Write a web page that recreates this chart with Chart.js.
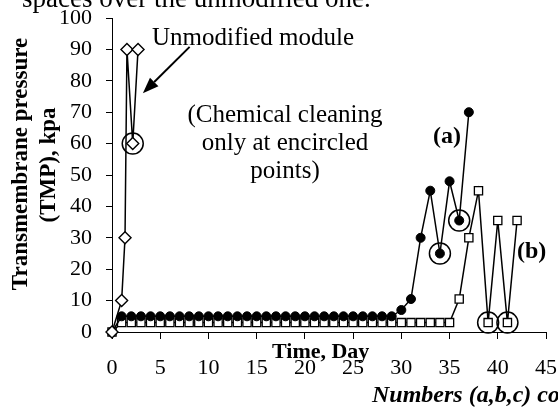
<!DOCTYPE html>
<html>
<head>
  <title>TMP vs time</title>
  <script src="https://cdn.jsdelivr.net/npm/chart.js"></script>
  <style>
    body { margin: 0; background: #fff; }
  </style>
</head>
<body>
  <div style="width:558px;height:412px">
    <canvas id="tmpChart" width="558" height="412"></canvas>
  </div>

  <script>
    // unmodified module (diamonds)
    const unmodDays = [0, 1, 1.35, 1.55, 2.15, 2.7];
    const unmodTmp = [0, 10, 30, 90, 60, 90];

    // module (a) - filled circles
    const daysA = [0, 1, 2, 3, 4, 5, 6, 7, 8, 9, 10, 11, 12, 13, 14, 15, 16, 17, 18, 19,
      20, 21, 22, 23, 24, 25, 26, 27, 28, 29, 30, 31, 32, 33, 34, 35, 36, 37];
    const tmpA = [0, 5, 5, 5, 5, 5, 5, 5, 5, 5, 5, 5, 5, 5, 5, 5, 5, 5, 5, 5,
      5, 5, 5, 5, 5, 5, 5, 5, 5, 5, 7, 10.5, 30, 45, 25, 48, 35.5, 70];

    // module (b) - open squares
    const daysB = [0, 1, 2, 3, 4, 5, 6, 7, 8, 9, 10, 11, 12, 13, 14, 15, 16, 17, 18, 19,
      20, 21, 22, 23, 24, 25, 26, 27, 28, 29, 30, 31, 32, 33, 34, 35, 36, 37, 38, 39,
      40, 41, 42];
    const tmpB = [0, 3, 3, 3, 3, 3, 3, 3, 3, 3, 3, 3, 3, 3, 3, 3, 3, 3, 3, 3,
      3, 3, 3, 3, 3, 3, 3, 3, 3, 3, 3, 3, 3, 3, 3, 3, 10.5, 30, 45, 3,
      35.5, 3, 35.5];

    // chemical cleaning points (encircled)
    const cleanDays = [2.15, 34, 36, 39, 41];
    const cleanTmp = [60, 25, 35.5, 3, 3];

    const xTicks = [0, 5, 10, 15, 20, 25, 30, 35, 40, 45];
    const yTicks = [0, 10, 20, 30, 40, 50, 60, 70, 80, 90, 100];

    function toPoints(xs, ys) {
      return xs.map((x, i) => ({ x: x, y: ys[i] }));
    }

    const serif = '"Liberation Serif", "Times New Roman", serif';

    const notes = {
      id: 'notes',
      afterDraw(chart) {
        const ctx = chart.ctx;
        const sx = chart.scales.x;
        const sy = chart.scales.y;
        ctx.save();
        ctx.fillStyle = '#000';
        ctx.strokeStyle = '#000';
        ctx.textBaseline = 'alphabetic';

        // cut-off line of the page above the figure
        ctx.textAlign = 'left';
        ctx.font = '27px ' + serif;
        ctx.fillText('spaces over the unmodified one.', 22, 7);

        // y axis title, two lines
        ctx.font = 'bold 23px ' + serif;
        ctx.textAlign = 'center';
        ctx.save();
        ctx.translate(27, 164);
        ctx.rotate(-Math.PI / 2);
        ctx.fillText('Transmembrane pressure', 0, 0);
        ctx.restore();
        ctx.save();
        ctx.translate(55, 165);
        ctx.rotate(-Math.PI / 2);
        ctx.fillText('(TMP), kpa', 0, 0);
        ctx.restore();

        // x axis title sits over the tick row
        ctx.textAlign = 'left';
        ctx.font = 'bold 22px ' + serif;
        ctx.fillText('Time, Day', 272, 358);

        ctx.font = 'bold italic 24px ' + serif;
        ctx.fillText('Numbers (a,b,c) correspond', 372, 402);

        // in-plot labels
        ctx.font = '25px ' + serif;
        ctx.fillText('Unmodified module', 152, 45);
        ctx.textAlign = 'center';
        ctx.fillText('(Chemical cleaning', 285, 122);
        ctx.fillText('only at encircled', 285, 150);
        ctx.fillText('points)', 285, 178);

        ctx.textAlign = 'left';
        ctx.font = 'bold 24px ' + serif;
        ctx.fillText('(a)', 433, 143);
        ctx.fillText('(b)', 517, 258);

        // arrow to the unmodified curve
        const x0 = sx.getPixelForValue(8.05), y0 = sy.getPixelForValue(90.8);
        const x1 = sx.getPixelForValue(3.2), y1 = sy.getPixelForValue(76);
        const ang = Math.atan2(y1 - y0, x1 - x0);
        const head = 16, half = 6;
        const bx = x1 - head * Math.cos(ang), by = y1 - head * Math.sin(ang);
        ctx.lineWidth = 2;
        ctx.beginPath();
        ctx.moveTo(x0, y0);
        ctx.lineTo(bx, by);
        ctx.stroke();
        ctx.beginPath();
        ctx.moveTo(x1, y1);
        ctx.lineTo(bx - half * Math.sin(ang), by + half * Math.cos(ang));
        ctx.lineTo(bx + half * Math.sin(ang), by - half * Math.cos(ang));
        ctx.closePath();
        ctx.fill();
        ctx.restore();
      }
    };

    function noPad(scale) {
      scale.paddingLeft = 0;
      scale.paddingRight = 0;
      scale.paddingTop = 0;
      scale.paddingBottom = 0;
    }

    new Chart(document.getElementById('tmpChart'), {
      type: 'scatter',
      data: {
        datasets: [{
          label: 'Unmodified module',
          data: toPoints(unmodDays, unmodTmp),
          showLine: true,
          borderColor: '#000',
          borderWidth: 1.5,
          pointStyle: 'rectRot',
          pointRadius: 6,
          pointBackgroundColor: '#fff',
          pointBorderColor: '#000',
          pointBorderWidth: 1.4,
          clip: false
        }, {
          label: 'Cleaning',
          data: toPoints(cleanDays, cleanTmp),
          showLine: false,
          pointStyle: 'circle',
          pointRadius: 10.5,
          pointBackgroundColor: 'rgba(0,0,0,0)',
          pointBorderColor: '#000',
          pointBorderWidth: 1.5,
          clip: false
        }, {
          label: '(a)',
          data: toPoints(daysA, tmpA),
          showLine: true,
          borderColor: '#000',
          borderWidth: 1.5,
          pointStyle: 'circle',
          pointRadius: 4.5,
          pointBackgroundColor: '#000',
          pointBorderColor: '#000',
          pointBorderWidth: 1,
          clip: false
        }, {
          label: '(b)',
          data: toPoints(daysB, tmpB),
          showLine: true,
          borderColor: '#000',
          borderWidth: 1.5,
          pointStyle: 'rect',
          pointRadius: 5.8,
          pointBackgroundColor: '#fff',
          pointBorderColor: '#000',
          pointBorderWidth: 1.3,
          clip: false
        }]
      },
      options: {
        responsive: false,
        animation: false,
        events: [],
        layout: {
          padding: { left: 0, top: 18, right: 11, bottom: 0 }
        },
        elements: {
          line: { tension: 0 }
        },
        scales: {
          x: {
            type: 'linear',
            min: 0,
            max: 45,
            afterBuildTicks: (scale) => { scale.ticks = xTicks.map(v => ({ value: v })); },
            afterFit: (scale) => { scale.height = 80; noPad(scale); },
            ticks: {
              autoSkip: false,
              maxRotation: 0,
              padding: 16,
              color: '#000',
              font: { family: serif, size: 22 }
            },
            grid: {
              display: true,
              drawOnChartArea: false,
              drawTicks: true,
              tickLength: 7,
              color: '#000',
              lineWidth: 1
            },
            border: { display: true, color: '#000', width: 1 },
            title: { display: false }
          },
          y: {
            type: 'linear',
            min: 0,
            max: 100,
            afterBuildTicks: (scale) => { scale.ticks = yTicks.map(v => ({ value: v })); },
            afterFit: (scale) => { scale.width = 112; noPad(scale); },
            ticks: {
              autoSkip: false,
              padding: 14,
              color: '#000',
              font: { family: serif, size: 22 }
            },
            grid: {
              display: true,
              drawOnChartArea: false,
              drawTicks: true,
              tickLength: 6,
              color: '#000',
              lineWidth: 1
            },
            border: { display: true, color: '#000', width: 1 },
            title: { display: false }
          }
        },
        plugins: {
          legend: { display: false },
          tooltip: { enabled: false },
          title: { display: false }
        }
      },
      plugins: [notes]
    });
  </script>
</body>
</html>
